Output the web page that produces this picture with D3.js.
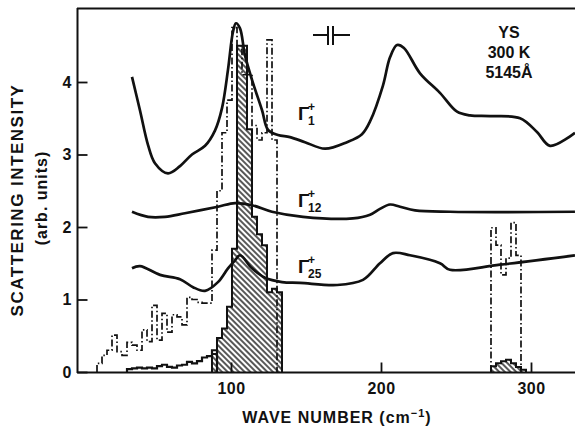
<!DOCTYPE html>
<html>
<head>
<meta charset="utf-8">
<script src="https://cdn.jsdelivr.net/npm/d3@7"></script>
<style>
  body { margin: 0; background: #fff; }
  svg text { font-family: "Liberation Sans", Arial, sans-serif; fill: #111; }
</style>
</head>
<body>
<svg id="chart"></svg>
<script>
// smooth spectra, [wave number, intensity]
const gamma1 = [[34,4.07],[39.3,3.61],[44.7,3.13],[49.3,2.88],[58,2.74],[66,2.84],[74,3.0],[82.7,3.12],[89.3,3.33],[94,3.64],[98,4.17],[101.3,4.69],[103.3,4.81],[106,4.74],[109.3,4.37],[114,4.03],[120.7,3.61],[124.7,3.34],[131.3,3.27],[139.3,3.24],[149.3,3.17],[162.7,3.08],[177.3,3.17],[187.3,3.28],[193,3.47],[201.3,3.95],[206,4.34],[210.7,4.51],[215.3,4.47],[226,4.12],[239.3,3.85],[250.7,3.59],[259.3,3.54],[272.7,3.53],[292.7,3.5],[304,3.31],[312.7,3.12],[329.3,3.3]];
const gamma12 = [[34,2.21],[44.7,2.14],[56,2.14],[69.3,2.19],[91.3,2.28],[102.7,2.33],[114,2.3],[127.3,2.21],[148,2.14],[181.3,2.12],[192.7,2.17],[199.3,2.25],[206,2.31],[212.7,2.28],[222.7,2.23],[246,2.21],[329.3,2.21]];
const gamma25 = [[34,1.43],[39.3,1.46],[52.7,1.34],[66,1.28],[74.7,1.17],[82.7,1.12],[91.3,1.24],[98,1.43],[102.7,1.54],[106,1.61],[114,1.43],[122.7,1.3],[134,1.24],[146,1.23],[170.7,1.2],[188,1.27],[199.3,1.5],[208,1.64],[219.3,1.61],[239.3,1.5],[246,1.41],[279.3,1.48],[329.3,1.61]];

// histograms: bin width, first bin edge, bin heights
const binWidth = 10 / 3;
const dashStart = 10.67;
const dashValues = [0.12,0.23,0.30,0.51,0.28,0.23,0.41,0.37,0.30,0.58,0.42,0.92,0.44,0.81,0.55,0.79,0.76,0.65,1.03,1.00,0.96,0.95,0.95,1.68,2.50,3.30,3.75,4.75,4.45,4.10,4.10,3.40,3.20,3.30,4.58,3.20];
const lowStart = 30.67;
const lowValues = [0.04,0.05,0.06,0.05,0.06,0.05,0.08,0.10,0.07,0.06,0.09,0.10,0.14,0.12,0.15,0.20,0.22,0.30];
const hatchStart = 87.33;
const hatchValues = [0.25,0.47,0.60,0.90,1.70,4.50,4.50,3.35,2.14,1.90,1.75,1.10,1.15,1.10];
const dashStart2 = 273.33;
const dashValues2 = [1.99,1.75,1.34,1.57,2.06,1.61];
const hatchStart2 = 273.33;
const hatchValues2 = [0.08,0.12,0.15,0.17,0.12,0.07,0.03];

const xTicks = [100, 200, 300];
const yTicks = [0, 1, 2, 3, 4];

const width = 575;
const height = 426;

let svg = d3.select("#chart").attr("width", width).attr("height", height);

let x = d3.scaleLinear().domain([0, 300]).range([81, 531]);
let y = d3.scaleLinear().domain([0, 4]).range([372, 82]);

// hatch pattern for the shaded histograms
let defs = svg.append("defs");
defs.append("pattern")
    .attr("id", "hatch")
    .attr("patternUnits", "userSpaceOnUse")
    .attr("width", 4)
    .attr("height", 4)
    .attr("patternTransform", "rotate(45)")
    .append("line")
    .attr("x1", 0).attr("y1", 2)
    .attr("x2", 4).attr("y2", 2)
    .attr("stroke", "#111")
    .attr("stroke-width", 1.4);

function binPoints(start, values) {
    let pts = values.map((v, i) => [start + i * binWidth, v]);
    pts.push([start + values.length * binWidth, values[values.length - 1]]);
    return pts;
}

// outline of a histogram, dropping to zero at both ends
function histPath(start, values) {
    let pts = [[start, 0]].concat(values.map((v, i) => [start + i * binWidth, v]));
    pts.push([start + values.length * binWidth, 0]);
    return d3.line()
        .x(d => x(d[0]))
        .y(d => y(d[1]))
        .curve(d3.curveStepAfter)(pts);
}

let hatchArea = d3.area()
    .x(d => x(d[0]))
    .y0(y(0))
    .y1(d => y(d[1]))
    .curve(d3.curveStepAfter);

// hatched histograms
[[hatchStart, hatchValues], [hatchStart2, hatchValues2]].forEach(h => {
    svg.append("path")
        .attr("d", hatchArea(binPoints(h[0], h[1])))
        .attr("fill", "url(#hatch)");
    svg.append("path")
        .attr("d", histPath(h[0], h[1]))
        .attr("fill", "none")
        .attr("stroke", "#111")
        .attr("stroke-width", 2);
});

// low solid histogram
svg.append("path")
    .attr("d", histPath(lowStart, lowValues))
    .attr("fill", "none")
    .attr("stroke", "#111")
    .attr("stroke-width", 2.2);

// dash-dot histograms
[[dashStart, dashValues], [dashStart2, dashValues2]].forEach(h => {
    svg.append("path")
        .attr("d", histPath(h[0], h[1]))
        .attr("fill", "none")
        .attr("stroke", "#111")
        .attr("stroke-width", 1.7)
        .attr("stroke-dasharray", "7,2.5,1.5,2.5");
});

// the three spectra
let line = d3.line()
    .x(d => x(d[0]))
    .y(d => y(d[1]))
    .curve(d3.curveCatmullRom.alpha(0.5));

[gamma1, gamma12, gamma25].forEach(s => {
    svg.append("path")
        .attr("d", line(s))
        .attr("fill", "none")
        .attr("stroke", "#111")
        .attr("stroke-width", 2.7)
        .attr("stroke-linejoin", "round");
});

// frame lines
svg.append("line").attr("x1", 77.5).attr("x2", 77.5).attr("y1", 8).attr("y2", 373)
    .attr("stroke", "#111").attr("stroke-width", 2);
svg.append("line").attr("x1", 77).attr("x2", width).attr("y1", 8.5).attr("y2", 8.5)
    .attr("stroke", "#111").attr("stroke-width", 2);
svg.append("line").attr("x1", 77).attr("x2", width).attr("y1", 372.5).attr("y2", 372.5)
    .attr("stroke", "#111").attr("stroke-width", 2);

// axes with inward ticks
let yAxis = svg.append("g")
    .attr("transform", "translate(77.5,0)")
    .call(d3.axisLeft(y).tickValues(yTicks).tickFormat(d3.format("d"))
        .tickSizeInner(-10).tickSizeOuter(0).tickPadding(6));
yAxis.select(".domain").remove();
yAxis.selectAll("line").attr("stroke", "#111").attr("stroke-width", 1.8);
yAxis.selectAll("text").attr("font-size", 16).attr("font-weight", "bold").attr("fill", "#111");

let xAxis = svg.append("g")
    .attr("transform", "translate(0,372.5)")
    .call(d3.axisBottom(x).tickValues(xTicks).tickFormat(d3.format("d"))
        .tickSizeInner(-10).tickSizeOuter(0).tickPadding(10));
xAxis.select(".domain").remove();
xAxis.selectAll("line").attr("stroke", "#111").attr("stroke-width", 1.8);
xAxis.selectAll("text").attr("font-size", 16).attr("font-weight", "bold").attr("fill", "#111")
    .attr("letter-spacing", 0.5);

// axis titles
let xt = svg.append("text")
    .attr("x", 337).attr("y", 423)
    .attr("text-anchor", "middle")
    .attr("font-size", 16).attr("font-weight", "bold")
    .attr("letter-spacing", 1);
xt.append("tspan").text("WAVE NUMBER (cm");
xt.append("tspan").attr("dy", -6).attr("font-size", 11).text("−1");
xt.append("tspan").attr("dy", 6).text(")");

svg.append("text")
    .attr("transform", "translate(23,200) rotate(-90)")
    .attr("text-anchor", "middle")
    .attr("font-size", 17).attr("font-weight", "bold")
    .attr("letter-spacing", 1.5)
    .text("SCATTERING INTENSITY");

svg.append("text")
    .attr("transform", "translate(47,198) rotate(-90)")
    .attr("text-anchor", "middle")
    .attr("font-size", 16).attr("font-weight", "bold")
    .attr("letter-spacing", 1)
    .text("(arb. units)");

// sample and conditions
const notes = ["YS", "300 K", "5145Å"];
notes.forEach((t, i) => {
    svg.append("text")
        .attr("x", 509).attr("y", 38 + i * 20)
        .attr("text-anchor", "middle")
        .attr("font-size", 16).attr("font-weight", "bold")
        .text(t);
});

// slit width symbol
svg.append("path")
    .attr("d", "M313,35H328M328,26V45M333,26V45M333,35H350")
    .attr("stroke", "#111").attr("stroke-width", 2).attr("fill", "none");

// symmetry labels
const labels = [
    { sub: "1", x: 298, y: 120 },
    { sub: "12", x: 298, y: 207 },
    { sub: "25", x: 298, y: 273 }
];
labels.forEach(l => {
    let g = svg.append("text").attr("font-family", "Liberation Serif, serif").attr("font-weight", "bold");
    g.append("tspan").attr("x", l.x).attr("y", l.y).attr("font-size", 19).text("Γ");
    g.append("tspan").attr("x", l.x + 10).attr("y", l.y - 9).attr("font-size", 12).text("+");
    g.append("tspan").attr("x", l.x + 10).attr("y", l.y + 5).attr("font-size", 12).text(l.sub);
});
</script>
</body>
</html>
